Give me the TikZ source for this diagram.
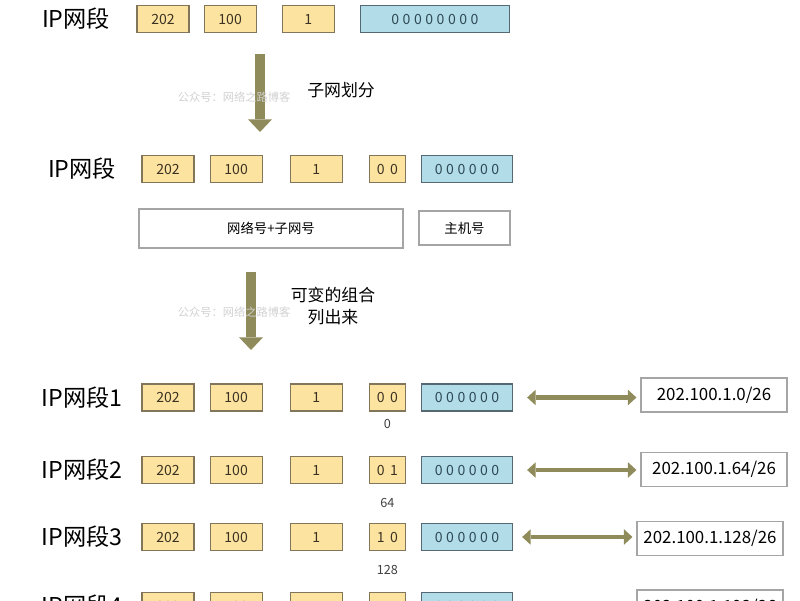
\documentclass[tikz,border=0pt]{standalone}
\usepackage{fontspec}
\setmainfont{Noto Sans CJK SC}
\usetikzlibrary{arrows.meta, positioning}

\definecolor{yfill}{RGB}{252,228,160}
\definecolor{ybd}{RGB}{130,118,90}
\definecolor{ytext}{RGB}{60,50,35}
\definecolor{bfill}{RGB}{178,220,232}
\definecolor{bbd}{RGB}{85,105,115}
\definecolor{btext}{RGB}{46,74,85}
\definecolor{wbd}{RGB}{165,165,165}
\definecolor{olive}{RGB}{143,139,90}

\newcommand{\bits}[1]{{\addfontfeature{LetterSpace=25}#1}}
\newcommand{\two}[2]{#1\hspace{.4em}#2}

\begin{document}
\begin{tikzpicture}[
    x=0.025cm, y=-0.025cm,
    node distance=0.375cm,
    every node/.style={inner sep=0pt},
    ybox/.style={draw=ybd, fill=yfill, text=ytext, line width=0.8pt, minimum width=1.3cm, minimum height=0.675cm, font=\fontsize{10}{12}\selectfont},
    sbox/.style={ybox, minimum width=0.9cm},
    bbox/.style={draw=bbd, fill=bfill, text=btext, line width=0.8pt, minimum width=2.275cm, minimum height=0.675cm, font=\fontsize{10}{12}\selectfont},
    wbox/.style={draw=wbd, fill=white, line width=0.8pt, minimum width=3.65cm, minimum height=0.85cm, font=\fontsize{12}{15}\selectfont},
    lbl/.style={font=\fontsize{16.5}{20}\selectfont},
    note/.style={font=\fontsize{12}{15.6}\selectfont, align=center},
    sub/.style={font=\fontsize{9}{11}\selectfont, text=black!75},
    wmark/.style={font=\fontsize{8}{10}\selectfont, text=black!18},
    down/.style={draw=olive, line width=7pt, -{Triangle[width=17pt, length=9pt, line width=0pt]}},
    both/.style={draw=olive, line width=3.5pt, shorten >=0.1cm, {Triangle[width=11pt, length=6pt, line width=0pt]}-{Triangle[width=11pt, length=6pt, line width=0pt]}}
]
\useasboundingbox (0,0) rectangle (800,600);
\clip (0,0) rectangle (800,600);

% original address
\node[lbl] (ip0) at (76,19) {IP网段};
\node[ybox] (a0) at (163,19) {202};
\node[ybox, right=0.35cm of a0] (b0) {100};
\node[ybox, right=0.625cm of b0] (c0) {1};
\node[bbox, minimum width=3.725cm, right=0.625cm of c0] (h0) {\bits{00000000}};

\coordinate (s1) at (260,54);
\coordinate (t1) at (260,132);
\draw[down] (s1) -- (t1);
\node[note, anchor=west] (n1) at (307,90) {子网划分};
\node[wmark] (w1) at (234,97) {公众号：网络之路博客};

% borrowed bits
\node[lbl] (ip) at (82,169) {IP网段};
\node[ybox] (a) at (168,169) {202};
\node[ybox, right=of a] (b) {100};
\node[ybox, right=0.675cm of b] (c) {1};
\node[sbox, right=0.65cm of c] (d) {\two00};
\node[bbox, right=of d] (h) {\bits{000000}};

\node[wbox, minimum width=6.6cm, minimum height=0.975cm, font=\fontsize{9.5}{12}\selectfont] (net) at (271,228.5) {网络号+子网号};
\node[wbox, minimum width=2.275cm, font=\fontsize{9.5}{12}\selectfont] (host) at (464.5,228) {主机号};

\coordinate (s2) at (251,272);
\coordinate (t2) at (251,350);
\draw[down] (s2) -- (t2);
\node[note] (n2) at (333,306) {可变的组合\\列出来};
\node[wmark] (w2) at (234,312) {公众号：网络之路博客};

% subnet 1
\node[lbl] (ip1) at (82,397.5) {IP网段1};
\node[ybox] (a1) at (168,397.5) {202};
\node[ybox, right=of a1] (b1) {100};
\node[ybox, right=0.675cm of b1] (c1) {1};
\node[sbox, right=0.65cm of c1] (d1) {\two00};
\node[bbox, right=of d1] (h1) {\bits{000000}};
\node[sub, below=0.175cm of d1] (v1) {0};
\node[wbox] (r1) at (714,395) {202.100.1.0/26};
\draw[both, shorten <=0.35cm] (h1.east) -- (h1.east -| r1.west);

% subnet 2
\node[lbl] (ip2) at (82,470) {IP网段2};
\node[ybox] (a2) at (168,470) {202};
\node[ybox, right=of a2] (b2) {100};
\node[ybox, right=0.675cm of b2] (c2) {1};
\node[sbox, right=0.65cm of c2] (d2) {\two01};
\node[bbox, right=of d2] (h2) {\bits{000000}};
\node[sub, below=0.34cm of d2] (v2) {64};
\node[wbox] (r2) at (714,469.5) {202.100.1.64/26};
\draw[both, shorten <=0.35cm] (h2.east) -- (h2.east -| r2.west);

% subnet 3
\node[lbl] (ip3) at (82,537) {IP网段3};
\node[ybox] (a3) at (168,537) {202};
\node[ybox, right=of a3] (b3) {100};
\node[ybox, right=0.675cm of b3] (c3) {1};
\node[sbox, right=0.65cm of c3] (d3) {\two10};
\node[bbox, right=of d3] (h3) {\bits{000000}};
\node[sub, below=0.34cm of d3] (v3) {128};
\node[wbox] (r3) at (710,538.5) {202.100.1.128/26};
\draw[both, shorten <=0.225cm] (h3.east) -- (h3.east -| r3.west);

% subnet 4 (cut off)
\node[lbl] (ip4) at (82,606) {IP网段4};
\node[ybox] (a4) at (168,606) {202};
\node[ybox, right=of a4] (b4) {100};
\node[ybox, right=0.675cm of b4] (c4) {1};
\node[sbox, right=0.65cm of c4] (d4) {\two11};
\node[bbox, right=of d4] (h4) {\bits{000000}};
\node[wbox] (r4) at (710,607) {202.100.1.192/26};

\end{tikzpicture}
\end{document}
